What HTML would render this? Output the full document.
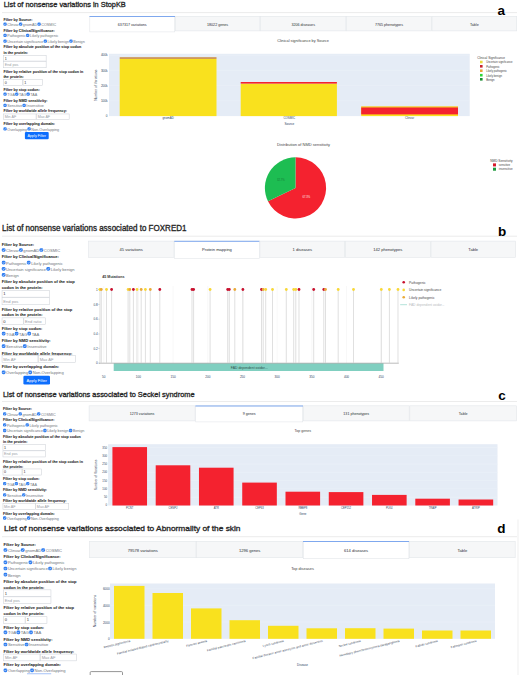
<!DOCTYPE html>
<html><head><meta charset="utf-8"><title>StopKB figure</title>
<style>
html,body{margin:0;padding:0;background:#fff;}
body{width:520px;height:675px;position:relative;overflow:hidden;font-family:"Liberation Sans", sans-serif;}
.t{position:absolute;white-space:pre;line-height:1;}
.r{position:absolute;}
</style></head><body>
<svg width="520" height="675" viewBox="0 0 520 675" style="position:absolute;left:0;top:0" font-family='"Liberation Sans", sans-serif'><text x="3.75" y="7.45" font-size="7.700" fill="#262626" textLength="122.00" lengthAdjust="spacingAndGlyphs" stroke="#262626" stroke-width="0.32">List of nonsense variations in StopKB</text><rect x="2.00" y="12.10" width="515.00" height="1.00" fill="#ececec"/><text x="497.60" y="14.90" font-size="13.500" fill="#000" font-weight="bold">a</text><text x="2.00" y="230.90" font-size="8.150" fill="#262626" textLength="184.50" lengthAdjust="spacingAndGlyphs" stroke="#262626" stroke-width="0.32">List of nonsense variations associated to FOXRED1</text><rect x="2.00" y="235.70" width="515.00" height="1.00" fill="#ececec"/><text x="497.90" y="235.70" font-size="13.500" fill="#000" font-weight="bold">b</text><text x="2.90" y="396.60" font-size="7.700" fill="#262626" textLength="191.60" lengthAdjust="spacingAndGlyphs" stroke="#262626" stroke-width="0.32">List of nonsense variations associated to Seckel syndrome</text><rect x="2.00" y="401.00" width="515.00" height="1.00" fill="#ececec"/><text x="498.30" y="399.70" font-size="13.500" fill="#000" font-weight="bold">c</text><text x="4.00" y="531.00" font-size="8.000" fill="#262626" textLength="236.50" lengthAdjust="spacingAndGlyphs" stroke="#262626" stroke-width="0.32">List of nonsense variations associated to Abnormality of the skin</text><rect x="2.00" y="536.20" width="515.00" height="1.00" fill="#ececec"/><text x="497.30" y="533.30" font-size="13.500" fill="#000" font-weight="bold">d</text><text x="3.40" y="21.02" font-size="3.700" fill="#1f1f1f" font-weight="bold" stroke="#1f1f1f" stroke-width="0.06">Filter by Source:</text><rect x="3.40" y="22.44" width="3.33" height="3.33" fill="#2f7df0" rx="1.27"/><path d="M4.23,24.17 L4.83,24.77 L5.90,23.50" stroke="#fff" stroke-width="0.47" fill="none"/><text x="7.29" y="25.92" font-size="3.700" fill="#6f757c">Clinvar</text><rect x="18.98" y="22.44" width="3.33" height="3.33" fill="#2f7df0" rx="1.27"/><path d="M19.82,24.17 L20.42,24.77 L21.48,23.50" stroke="#fff" stroke-width="0.47" fill="none"/><text x="22.87" y="25.92" font-size="3.700" fill="#6f757c">gnomAD</text><rect x="37.45" y="22.44" width="3.33" height="3.33" fill="#2f7df0" rx="1.27"/><path d="M38.28,24.17 L38.88,24.77 L39.95,23.50" stroke="#fff" stroke-width="0.47" fill="none"/><text x="41.33" y="25.92" font-size="3.700" fill="#6f757c">COSMIC</text><text x="3.40" y="31.52" font-size="3.700" fill="#1f1f1f" font-weight="bold" stroke="#1f1f1f" stroke-width="0.06">Filter by ClinicalSignificance:</text><rect x="3.40" y="33.63" width="3.33" height="3.33" fill="#2f7df0" rx="1.27"/><path d="M4.23,35.37 L4.83,35.97 L5.90,34.70" stroke="#fff" stroke-width="0.47" fill="none"/><text x="7.29" y="37.12" font-size="3.700" fill="#6f757c">Pathogenic</text><rect x="25.98" y="33.63" width="3.33" height="3.33" fill="#2f7df0" rx="1.27"/><path d="M26.82,35.37 L27.42,35.97 L28.48,34.70" stroke="#fff" stroke-width="0.47" fill="none"/><text x="29.87" y="37.12" font-size="3.700" fill="#6f757c">Likely pathogenic</text><rect x="3.40" y="39.44" width="3.33" height="3.33" fill="#2f7df0" rx="1.27"/><path d="M4.23,41.17 L4.83,41.77 L5.90,40.50" stroke="#fff" stroke-width="0.47" fill="none"/><text x="7.29" y="42.92" font-size="3.700" fill="#6f757c">Uncertain significance</text><rect x="43.67" y="39.44" width="3.33" height="3.33" fill="#2f7df0" rx="1.27"/><path d="M44.50,41.17 L45.10,41.77 L46.16,40.50" stroke="#fff" stroke-width="0.47" fill="none"/><text x="47.55" y="42.92" font-size="3.700" fill="#6f757c">Likely benign</text><rect x="69.34" y="39.44" width="3.33" height="3.33" fill="#2f7df0" rx="1.27"/><path d="M70.17,41.17 L70.77,41.77 L71.83,40.50" stroke="#fff" stroke-width="0.47" fill="none"/><text x="73.22" y="42.92" font-size="3.700" fill="#6f757c">Benign</text><text x="3.40" y="48.32" font-size="3.700" fill="#1f1f1f" font-weight="bold" stroke="#1f1f1f" stroke-width="0.06">Filter by absolute position of the stop codon</text><text x="3.40" y="53.92" font-size="3.700" fill="#1f1f1f" font-weight="bold" stroke="#1f1f1f" stroke-width="0.06">in the protein:</text><text x="3.40" y="72.52" font-size="3.700" fill="#1f1f1f" font-weight="bold" stroke="#1f1f1f" stroke-width="0.06">Filter by relative position of the stop codon in</text><text x="3.40" y="78.22" font-size="3.700" fill="#1f1f1f" font-weight="bold" stroke="#1f1f1f" stroke-width="0.06">the protein:</text><text x="3.40" y="90.52" font-size="3.700" fill="#1f1f1f" font-weight="bold" stroke="#1f1f1f" stroke-width="0.06">Filter by stop codon:</text><rect x="3.40" y="92.53" width="3.33" height="3.33" fill="#2f7df0" rx="1.27"/><path d="M4.23,94.27 L4.83,94.87 L5.90,93.60" stroke="#fff" stroke-width="0.47" fill="none"/><text x="7.29" y="96.02" font-size="3.700" fill="#6f757c">TGA</text><rect x="15.08" y="92.53" width="3.33" height="3.33" fill="#2f7df0" rx="1.27"/><path d="M15.91,94.27 L16.51,94.87 L17.57,93.60" stroke="#fff" stroke-width="0.47" fill="none"/><text x="18.96" y="96.02" font-size="3.700" fill="#6f757c">TAG</text><rect x="26.48" y="92.53" width="3.33" height="3.33" fill="#2f7df0" rx="1.27"/><path d="M27.31,94.27 L27.91,94.87 L28.98,93.60" stroke="#fff" stroke-width="0.47" fill="none"/><text x="30.36" y="96.02" font-size="3.700" fill="#6f757c">TAA</text><text x="3.40" y="101.52" font-size="3.700" fill="#1f1f1f" font-weight="bold" stroke="#1f1f1f" stroke-width="0.06">Filter by NMD sensitivity:</text><rect x="3.40" y="103.63" width="3.33" height="3.33" fill="#2f7df0" rx="1.27"/><path d="M4.23,105.37 L4.83,105.97 L5.90,104.70" stroke="#fff" stroke-width="0.47" fill="none"/><text x="7.29" y="107.12" font-size="3.700" fill="#6f757c">Sensitive</text><rect x="22.48" y="103.63" width="3.33" height="3.33" fill="#2f7df0" rx="1.27"/><path d="M23.32,105.37 L23.92,105.97 L24.98,104.70" stroke="#fff" stroke-width="0.47" fill="none"/><text x="26.37" y="107.12" font-size="3.700" fill="#6f757c">Insensitive</text><text x="3.40" y="112.32" font-size="3.700" fill="#1f1f1f" font-weight="bold" stroke="#1f1f1f" stroke-width="0.06">Filter by worldwide allele frequency:</text><text x="3.40" y="124.82" font-size="3.700" fill="#1f1f1f" font-weight="bold" stroke="#1f1f1f" stroke-width="0.06">Filter by overlapping domain:</text><rect x="3.40" y="127.14" width="3.33" height="3.33" fill="#2f7df0" rx="1.27"/><path d="M4.23,128.87 L4.83,129.47 L5.90,128.20" stroke="#fff" stroke-width="0.47" fill="none"/><text x="7.29" y="130.62" font-size="3.700" fill="#6f757c">Overlapping</text><rect x="27.42" y="127.14" width="3.33" height="3.33" fill="#2f7df0" rx="1.27"/><path d="M28.25,128.87 L28.85,129.47 L29.92,128.20" stroke="#fff" stroke-width="0.47" fill="none"/><text x="31.31" y="130.62" font-size="3.700" fill="#6f757c">Non-Overlapping</text><rect x="3.65" y="55.45" width="42.50" height="5.60" fill="#fff" stroke="#c9ced4" stroke-width="0.5" rx="0"/><text x="4.73" y="59.55" font-size="3.700" fill="#333">1</text><rect x="3.65" y="61.55" width="42.50" height="6.20" fill="#fff" stroke="#c9ced4" stroke-width="0.5" rx="0"/><text x="4.80" y="65.95" font-size="3.700" fill="#9aa0a6">End pos</text><rect x="3.65" y="79.55" width="18.90" height="6.00" fill="#fff" stroke="#c9ced4" stroke-width="0.5" rx="0"/><text x="4.78" y="83.84" font-size="3.700" fill="#333">0</text><rect x="23.05" y="79.55" width="19.40" height="6.00" fill="#fff" stroke="#c9ced4" stroke-width="0.5" rx="0"/><text x="24.18" y="83.84" font-size="3.700" fill="#333">1</text><rect x="3.65" y="113.95" width="32.40" height="5.60" fill="#fff" stroke="#c9ced4" stroke-width="0.5" rx="0"/><text x="4.73" y="118.05" font-size="3.700" fill="#9aa0a6">Min AF</text><rect x="36.55" y="113.95" width="32.60" height="5.60" fill="#fff" stroke="#c9ced4" stroke-width="0.5" rx="0"/><text x="37.63" y="118.05" font-size="3.700" fill="#9aa0a6">Max AF</text><rect x="24.90" y="131.90" width="23.80" height="7.40" fill="#0d6efd" rx="1.11"/><text x="36.80" y="136.93" font-size="3.700" fill="#fff" text-anchor="middle">Apply Filter</text><text x="1.80" y="246.25" font-size="4.100" fill="#1f1f1f" font-weight="bold" stroke="#1f1f1f" stroke-width="0.06">Filter by Source:</text><rect x="1.80" y="248.16" width="3.69" height="3.69" fill="#2f7df0" rx="1.40"/><path d="M2.72,250.07 L3.39,250.74 L4.57,249.34" stroke="#fff" stroke-width="0.52" fill="none"/><text x="6.10" y="251.95" font-size="4.100" fill="#6f757c">Clinvar</text><rect x="19.07" y="248.16" width="3.69" height="3.69" fill="#2f7df0" rx="1.40"/><path d="M19.99,250.07 L20.66,250.74 L21.84,249.34" stroke="#fff" stroke-width="0.52" fill="none"/><text x="23.37" y="251.95" font-size="4.100" fill="#6f757c">gnomAD</text><rect x="39.53" y="248.16" width="3.69" height="3.69" fill="#2f7df0" rx="1.40"/><path d="M40.45,250.07 L41.12,250.74 L42.30,249.34" stroke="#fff" stroke-width="0.52" fill="none"/><text x="43.84" y="251.95" font-size="4.100" fill="#6f757c">COSMIC</text><text x="1.80" y="258.25" font-size="4.100" fill="#1f1f1f" font-weight="bold" stroke="#1f1f1f" stroke-width="0.06">Filter by ClinicalSignificance:</text><rect x="1.80" y="260.75" width="3.69" height="3.69" fill="#2f7df0" rx="1.40"/><path d="M2.72,262.67 L3.39,263.34 L4.57,261.94" stroke="#fff" stroke-width="0.52" fill="none"/><text x="6.10" y="264.55" font-size="4.100" fill="#6f757c">Pathogenic</text><rect x="26.83" y="260.75" width="3.69" height="3.69" fill="#2f7df0" rx="1.40"/><path d="M27.75,262.67 L28.41,263.34 L29.59,261.94" stroke="#fff" stroke-width="0.52" fill="none"/><text x="31.13" y="264.55" font-size="4.100" fill="#6f757c">Likely pathogenic</text><rect x="1.80" y="266.95" width="3.69" height="3.69" fill="#2f7df0" rx="1.40"/><path d="M2.72,268.87 L3.39,269.54 L4.57,268.14" stroke="#fff" stroke-width="0.52" fill="none"/><text x="6.10" y="270.75" font-size="4.100" fill="#6f757c">Uncertain significance</text><rect x="46.42" y="266.95" width="3.69" height="3.69" fill="#2f7df0" rx="1.40"/><path d="M47.34,268.87 L48.01,269.54 L49.19,268.14" stroke="#fff" stroke-width="0.52" fill="none"/><text x="50.72" y="270.75" font-size="4.100" fill="#6f757c">Likely benign</text><rect x="1.80" y="273.05" width="3.69" height="3.69" fill="#2f7df0" rx="1.40"/><path d="M2.72,274.97 L3.39,275.64 L4.57,274.24" stroke="#fff" stroke-width="0.52" fill="none"/><text x="6.10" y="276.85" font-size="4.100" fill="#6f757c">Benign</text><text x="1.80" y="283.15" font-size="4.100" fill="#1f1f1f" font-weight="bold" stroke="#1f1f1f" stroke-width="0.06">Filter by absolute position of the stop</text><text x="1.80" y="289.15" font-size="4.100" fill="#1f1f1f" font-weight="bold" stroke="#1f1f1f" stroke-width="0.06">codon in the protein:</text><text x="1.80" y="310.55" font-size="4.100" fill="#1f1f1f" font-weight="bold" stroke="#1f1f1f" stroke-width="0.06">Filter by relative position of the stop</text><text x="1.80" y="315.95" font-size="4.100" fill="#1f1f1f" font-weight="bold" stroke="#1f1f1f" stroke-width="0.06">codon in the protein:</text><text x="1.80" y="329.85" font-size="4.100" fill="#1f1f1f" font-weight="bold" stroke="#1f1f1f" stroke-width="0.06">Filter by stop codon:</text><rect x="1.80" y="331.75" width="3.69" height="3.69" fill="#2f7df0" rx="1.40"/><path d="M2.72,333.67 L3.39,334.34 L4.57,332.94" stroke="#fff" stroke-width="0.52" fill="none"/><text x="6.10" y="335.55" font-size="4.100" fill="#6f757c">TGA</text><rect x="14.74" y="331.75" width="3.69" height="3.69" fill="#2f7df0" rx="1.40"/><path d="M15.66,333.67 L16.33,334.34 L17.51,332.94" stroke="#fff" stroke-width="0.52" fill="none"/><text x="19.04" y="335.55" font-size="4.100" fill="#6f757c">TAG</text><rect x="27.37" y="331.75" width="3.69" height="3.69" fill="#2f7df0" rx="1.40"/><path d="M28.30,333.67 L28.96,334.34 L30.14,332.94" stroke="#fff" stroke-width="0.52" fill="none"/><text x="31.68" y="335.55" font-size="4.100" fill="#6f757c">TAA</text><text x="1.80" y="342.25" font-size="4.100" fill="#1f1f1f" font-weight="bold" stroke="#1f1f1f" stroke-width="0.06">Filter by NMD sensitivity:</text><rect x="1.80" y="344.35" width="3.69" height="3.69" fill="#2f7df0" rx="1.40"/><path d="M2.72,346.27 L3.39,346.94 L4.57,345.54" stroke="#fff" stroke-width="0.52" fill="none"/><text x="6.10" y="348.15" font-size="4.100" fill="#6f757c">Sensitive</text><rect x="22.95" y="344.35" width="3.69" height="3.69" fill="#2f7df0" rx="1.40"/><path d="M23.87,346.27 L24.53,346.94 L25.71,345.54" stroke="#fff" stroke-width="0.52" fill="none"/><text x="27.25" y="348.15" font-size="4.100" fill="#6f757c">Insensitive</text><text x="1.80" y="354.55" font-size="4.100" fill="#1f1f1f" font-weight="bold" stroke="#1f1f1f" stroke-width="0.06">Filter by worldwide allele frequency:</text><text x="1.80" y="368.35" font-size="4.100" fill="#1f1f1f" font-weight="bold" stroke="#1f1f1f" stroke-width="0.06">Filter by overlapping domain:</text><rect x="1.80" y="370.45" width="3.69" height="3.69" fill="#2f7df0" rx="1.40"/><path d="M2.72,372.37 L3.39,373.04 L4.57,371.64" stroke="#fff" stroke-width="0.52" fill="none"/><text x="6.10" y="374.25" font-size="4.100" fill="#6f757c">Overlapping</text><rect x="28.42" y="370.45" width="3.69" height="3.69" fill="#2f7df0" rx="1.40"/><path d="M29.34,372.37 L30.00,373.04 L31.19,371.64" stroke="#fff" stroke-width="0.52" fill="none"/><text x="32.72" y="374.25" font-size="4.100" fill="#6f757c">Non-Overlapping</text><rect x="2.05" y="290.65" width="47.20" height="6.50" fill="#fff" stroke="#c9ced4" stroke-width="0.5" rx="0"/><text x="3.24" y="295.33" font-size="4.100" fill="#333">1</text><rect x="2.05" y="297.65" width="47.20" height="7.10" fill="#fff" stroke="#c9ced4" stroke-width="0.5" rx="0"/><text x="3.31" y="302.63" font-size="4.100" fill="#9aa0a6">End pos</text><rect x="2.05" y="317.85" width="21.30" height="6.60" fill="#fff" stroke="#c9ced4" stroke-width="0.5" rx="0"/><text x="3.25" y="322.58" font-size="4.100" fill="#333">0</text><rect x="23.85" y="317.85" width="21.40" height="6.60" fill="#fff" stroke="#c9ced4" stroke-width="0.5" rx="0"/><text x="25.05" y="322.58" font-size="4.100" fill="#9aa0a6">End ratio</text><rect x="2.05" y="355.65" width="35.90" height="6.90" fill="#fff" stroke="#c9ced4" stroke-width="0.5" rx="0"/><text x="3.29" y="360.54" font-size="4.100" fill="#9aa0a6">Min AF</text><rect x="38.45" y="355.65" width="36.80" height="6.90" fill="#fff" stroke="#c9ced4" stroke-width="0.5" rx="0"/><text x="39.69" y="360.54" font-size="4.100" fill="#9aa0a6">Max AF</text><rect x="23.40" y="375.80" width="26.60" height="8.80" fill="#0d6efd" rx="1.32"/><text x="36.70" y="381.68" font-size="4.100" fill="#fff" text-anchor="middle">Apply Filter</text><text x="3.00" y="409.92" font-size="3.700" fill="#1f1f1f" font-weight="bold" stroke="#1f1f1f" stroke-width="0.06">Filter by Source:</text><rect x="3.00" y="412.13" width="3.33" height="3.33" fill="#2f7df0" rx="1.27"/><path d="M3.83,413.87 L4.43,414.47 L5.50,413.20" stroke="#fff" stroke-width="0.47" fill="none"/><text x="6.88" y="415.62" font-size="3.700" fill="#6f757c">Clinvar</text><rect x="18.58" y="412.13" width="3.33" height="3.33" fill="#2f7df0" rx="1.27"/><path d="M19.42,413.87 L20.02,414.47 L21.08,413.20" stroke="#fff" stroke-width="0.47" fill="none"/><text x="22.47" y="415.62" font-size="3.700" fill="#6f757c">gnomAD</text><rect x="37.05" y="412.13" width="3.33" height="3.33" fill="#2f7df0" rx="1.27"/><path d="M37.88,413.87 L38.48,414.47 L39.55,413.20" stroke="#fff" stroke-width="0.47" fill="none"/><text x="40.93" y="415.62" font-size="3.700" fill="#6f757c">COSMIC</text><text x="3.00" y="421.12" font-size="3.700" fill="#1f1f1f" font-weight="bold" stroke="#1f1f1f" stroke-width="0.06">Filter by ClinicalSignificance:</text><rect x="3.00" y="423.23" width="3.33" height="3.33" fill="#2f7df0" rx="1.27"/><path d="M3.83,424.97 L4.43,425.57 L5.50,424.30" stroke="#fff" stroke-width="0.47" fill="none"/><text x="6.88" y="426.72" font-size="3.700" fill="#6f757c">Pathogenic</text><rect x="25.58" y="423.23" width="3.33" height="3.33" fill="#2f7df0" rx="1.27"/><path d="M26.42,424.97 L27.02,425.57 L28.08,424.30" stroke="#fff" stroke-width="0.47" fill="none"/><text x="29.47" y="426.72" font-size="3.700" fill="#6f757c">Likely pathogenic</text><rect x="3.00" y="428.83" width="3.33" height="3.33" fill="#2f7df0" rx="1.27"/><path d="M3.83,430.57 L4.43,431.17 L5.50,429.90" stroke="#fff" stroke-width="0.47" fill="none"/><text x="6.88" y="432.32" font-size="3.700" fill="#6f757c">Uncertain significance</text><rect x="43.27" y="428.83" width="3.33" height="3.33" fill="#2f7df0" rx="1.27"/><path d="M44.10,430.57 L44.70,431.17 L45.76,429.90" stroke="#fff" stroke-width="0.47" fill="none"/><text x="47.15" y="432.32" font-size="3.700" fill="#6f757c">Likely benign</text><rect x="68.94" y="428.83" width="3.33" height="3.33" fill="#2f7df0" rx="1.27"/><path d="M69.77,430.57 L70.37,431.17 L71.43,429.90" stroke="#fff" stroke-width="0.47" fill="none"/><text x="72.82" y="432.32" font-size="3.700" fill="#6f757c">Benign</text><text x="3.00" y="437.62" font-size="3.700" fill="#1f1f1f" font-weight="bold" stroke="#1f1f1f" stroke-width="0.06">Filter by absolute position of the stop codon</text><text x="3.00" y="443.27" font-size="3.700" fill="#1f1f1f" font-weight="bold" stroke="#1f1f1f" stroke-width="0.06">in the protein:</text><text x="3.00" y="462.52" font-size="3.700" fill="#1f1f1f" font-weight="bold" stroke="#1f1f1f" stroke-width="0.06">Filter by relative position of the stop codon in</text><text x="3.00" y="467.82" font-size="3.700" fill="#1f1f1f" font-weight="bold" stroke="#1f1f1f" stroke-width="0.06">the protein:</text><text x="3.00" y="480.42" font-size="3.700" fill="#1f1f1f" font-weight="bold" stroke="#1f1f1f" stroke-width="0.06">Filter by stop codon:</text><rect x="3.00" y="482.03" width="3.33" height="3.33" fill="#2f7df0" rx="1.27"/><path d="M3.83,483.77 L4.43,484.37 L5.50,483.10" stroke="#fff" stroke-width="0.47" fill="none"/><text x="6.88" y="485.52" font-size="3.700" fill="#6f757c">TGA</text><rect x="14.68" y="482.03" width="3.33" height="3.33" fill="#2f7df0" rx="1.27"/><path d="M15.51,483.77 L16.11,484.37 L17.17,483.10" stroke="#fff" stroke-width="0.47" fill="none"/><text x="18.56" y="485.52" font-size="3.700" fill="#6f757c">TAG</text><rect x="26.08" y="482.03" width="3.33" height="3.33" fill="#2f7df0" rx="1.27"/><path d="M26.91,483.77 L27.51,484.37 L28.58,483.10" stroke="#fff" stroke-width="0.47" fill="none"/><text x="29.96" y="485.52" font-size="3.700" fill="#6f757c">TAA</text><text x="3.00" y="491.02" font-size="3.700" fill="#1f1f1f" font-weight="bold" stroke="#1f1f1f" stroke-width="0.06">Filter by NMD sensitivity:</text><rect x="3.00" y="493.13" width="3.33" height="3.33" fill="#2f7df0" rx="1.27"/><path d="M3.83,494.87 L4.43,495.47 L5.50,494.20" stroke="#fff" stroke-width="0.47" fill="none"/><text x="6.88" y="496.62" font-size="3.700" fill="#6f757c">Sensitive</text><rect x="22.08" y="493.13" width="3.33" height="3.33" fill="#2f7df0" rx="1.27"/><path d="M22.92,494.87 L23.52,495.47 L24.58,494.20" stroke="#fff" stroke-width="0.47" fill="none"/><text x="25.97" y="496.62" font-size="3.700" fill="#6f757c">Insensitive</text><text x="3.00" y="502.12" font-size="3.700" fill="#1f1f1f" font-weight="bold" stroke="#1f1f1f" stroke-width="0.06">Filter by worldwide allele frequency:</text><text x="3.00" y="514.62" font-size="3.700" fill="#1f1f1f" font-weight="bold" stroke="#1f1f1f" stroke-width="0.06">Filter by overlapping domain:</text><rect x="3.00" y="516.34" width="3.33" height="3.33" fill="#2f7df0" rx="1.27"/><path d="M3.83,518.07 L4.43,518.67 L5.50,517.40" stroke="#fff" stroke-width="0.47" fill="none"/><text x="6.88" y="519.82" font-size="3.700" fill="#6f757c">Overlapping</text><rect x="27.02" y="516.34" width="3.33" height="3.33" fill="#2f7df0" rx="1.27"/><path d="M27.85,518.07 L28.45,518.67 L29.52,517.40" stroke="#fff" stroke-width="0.47" fill="none"/><text x="30.91" y="519.82" font-size="3.700" fill="#6f757c">Non-Overlapping</text><rect x="2.95" y="444.55" width="42.60" height="5.80" fill="#fff" stroke="#c9ced4" stroke-width="0.5" rx="0"/><text x="4.06" y="448.75" font-size="3.700" fill="#333">1</text><rect x="2.95" y="450.85" width="42.60" height="6.10" fill="#fff" stroke="#c9ced4" stroke-width="0.5" rx="0"/><text x="4.09" y="455.19" font-size="3.700" fill="#9aa0a6">End pos</text><rect x="2.95" y="468.95" width="19.00" height="6.10" fill="#fff" stroke="#c9ced4" stroke-width="0.5" rx="0"/><text x="4.09" y="473.30" font-size="3.700" fill="#333">0</text><rect x="22.45" y="468.95" width="18.90" height="6.10" fill="#fff" stroke="#c9ced4" stroke-width="0.5" rx="0"/><text x="23.59" y="473.30" font-size="3.700" fill="#333">1</text><rect x="2.95" y="503.65" width="32.30" height="5.70" fill="#fff" stroke="#c9ced4" stroke-width="0.5" rx="0"/><text x="4.04" y="507.80" font-size="3.700" fill="#9aa0a6">Min AF</text><rect x="35.75" y="503.65" width="33.00" height="5.70" fill="#fff" stroke="#c9ced4" stroke-width="0.5" rx="0"/><text x="36.84" y="507.80" font-size="3.700" fill="#9aa0a6">Max AF</text><text x="3.60" y="546.25" font-size="4.100" fill="#1f1f1f" font-weight="bold" stroke="#1f1f1f" stroke-width="0.06">Filter by Source:</text><rect x="3.60" y="548.15" width="3.69" height="3.69" fill="#2f7df0" rx="1.40"/><path d="M4.52,550.07 L5.19,550.74 L6.37,549.34" stroke="#fff" stroke-width="0.52" fill="none"/><text x="7.90" y="551.95" font-size="4.100" fill="#6f757c">Clinvar</text><rect x="20.87" y="548.15" width="3.69" height="3.69" fill="#2f7df0" rx="1.40"/><path d="M21.79,550.07 L22.46,550.74 L23.64,549.34" stroke="#fff" stroke-width="0.52" fill="none"/><text x="25.17" y="551.95" font-size="4.100" fill="#6f757c">gnomAD</text><rect x="41.33" y="548.15" width="3.69" height="3.69" fill="#2f7df0" rx="1.40"/><path d="M42.25,550.07 L42.92,550.74 L44.10,549.34" stroke="#fff" stroke-width="0.52" fill="none"/><text x="45.64" y="551.95" font-size="4.100" fill="#6f757c">COSMIC</text><text x="3.60" y="558.25" font-size="4.100" fill="#1f1f1f" font-weight="bold" stroke="#1f1f1f" stroke-width="0.06">Filter by ClinicalSignificance:</text><rect x="3.60" y="560.45" width="3.69" height="3.69" fill="#2f7df0" rx="1.40"/><path d="M4.52,562.37 L5.19,563.04 L6.37,561.64" stroke="#fff" stroke-width="0.52" fill="none"/><text x="7.90" y="564.25" font-size="4.100" fill="#6f757c">Pathogenic</text><rect x="28.63" y="560.45" width="3.69" height="3.69" fill="#2f7df0" rx="1.40"/><path d="M29.55,562.37 L30.21,563.04 L31.39,561.64" stroke="#fff" stroke-width="0.52" fill="none"/><text x="32.93" y="564.25" font-size="4.100" fill="#6f757c">Likely pathogenic</text><rect x="3.60" y="566.65" width="3.69" height="3.69" fill="#2f7df0" rx="1.40"/><path d="M4.52,568.57 L5.19,569.24 L6.37,567.84" stroke="#fff" stroke-width="0.52" fill="none"/><text x="7.90" y="570.45" font-size="4.100" fill="#6f757c">Uncertain significance</text><rect x="48.22" y="566.65" width="3.69" height="3.69" fill="#2f7df0" rx="1.40"/><path d="M49.14,568.57 L49.81,569.24 L50.99,567.84" stroke="#fff" stroke-width="0.52" fill="none"/><text x="52.52" y="570.45" font-size="4.100" fill="#6f757c">Likely benign</text><rect x="3.60" y="572.75" width="3.69" height="3.69" fill="#2f7df0" rx="1.40"/><path d="M4.52,574.67 L5.19,575.34 L6.37,573.94" stroke="#fff" stroke-width="0.52" fill="none"/><text x="7.90" y="576.55" font-size="4.100" fill="#6f757c">Benign</text><text x="3.60" y="582.55" font-size="4.100" fill="#1f1f1f" font-weight="bold" stroke="#1f1f1f" stroke-width="0.06">Filter by absolute position of the stop</text><text x="3.60" y="588.60" font-size="4.100" fill="#1f1f1f" font-weight="bold" stroke="#1f1f1f" stroke-width="0.06">codon in the protein:</text><text x="3.60" y="609.35" font-size="4.100" fill="#1f1f1f" font-weight="bold" stroke="#1f1f1f" stroke-width="0.06">Filter by relative position of the stop</text><text x="3.60" y="615.25" font-size="4.100" fill="#1f1f1f" font-weight="bold" stroke="#1f1f1f" stroke-width="0.06">codon in the protein:</text><text x="3.60" y="628.55" font-size="4.100" fill="#1f1f1f" font-weight="bold" stroke="#1f1f1f" stroke-width="0.06">Filter by stop codon:</text><rect x="3.60" y="630.55" width="3.69" height="3.69" fill="#2f7df0" rx="1.40"/><path d="M4.52,632.47 L5.19,633.14 L6.37,631.74" stroke="#fff" stroke-width="0.52" fill="none"/><text x="7.90" y="634.35" font-size="4.100" fill="#6f757c">TGA</text><rect x="16.54" y="630.55" width="3.69" height="3.69" fill="#2f7df0" rx="1.40"/><path d="M17.46,632.47 L18.13,633.14 L19.31,631.74" stroke="#fff" stroke-width="0.52" fill="none"/><text x="20.84" y="634.35" font-size="4.100" fill="#6f757c">TAG</text><rect x="29.17" y="630.55" width="3.69" height="3.69" fill="#2f7df0" rx="1.40"/><path d="M30.10,632.47 L30.76,633.14 L31.94,631.74" stroke="#fff" stroke-width="0.52" fill="none"/><text x="33.48" y="634.35" font-size="4.100" fill="#6f757c">TAA</text><text x="3.60" y="640.55" font-size="4.100" fill="#1f1f1f" font-weight="bold" stroke="#1f1f1f" stroke-width="0.06">Filter by NMD sensitivity:</text><rect x="3.60" y="642.65" width="3.69" height="3.69" fill="#2f7df0" rx="1.40"/><path d="M4.52,644.57 L5.19,645.24 L6.37,643.84" stroke="#fff" stroke-width="0.52" fill="none"/><text x="7.90" y="646.45" font-size="4.100" fill="#6f757c">Sensitive</text><rect x="24.75" y="642.65" width="3.69" height="3.69" fill="#2f7df0" rx="1.40"/><path d="M25.67,644.57 L26.33,645.24 L27.51,643.84" stroke="#fff" stroke-width="0.52" fill="none"/><text x="29.05" y="646.45" font-size="4.100" fill="#6f757c">Insensitive</text><text x="3.60" y="652.85" font-size="4.100" fill="#1f1f1f" font-weight="bold" stroke="#1f1f1f" stroke-width="0.06">Filter by worldwide allele frequency:</text><text x="3.60" y="666.35" font-size="4.100" fill="#1f1f1f" font-weight="bold" stroke="#1f1f1f" stroke-width="0.06">Filter by overlapping domain:</text><rect x="3.60" y="668.45" width="3.69" height="3.69" fill="#2f7df0" rx="1.40"/><path d="M4.52,670.37 L5.19,671.04 L6.37,669.64" stroke="#fff" stroke-width="0.52" fill="none"/><text x="7.90" y="672.25" font-size="4.100" fill="#6f757c">Overlapping</text><rect x="30.22" y="668.45" width="3.69" height="3.69" fill="#2f7df0" rx="1.40"/><path d="M31.14,670.37 L31.80,671.04 L32.99,669.64" stroke="#fff" stroke-width="0.52" fill="none"/><text x="34.52" y="672.25" font-size="4.100" fill="#6f757c">Non-Overlapping</text><rect x="3.65" y="589.85" width="47.30" height="6.50" fill="#fff" stroke="#c9ced4" stroke-width="0.5" rx="0"/><text x="4.84" y="594.53" font-size="4.100" fill="#333">1</text><rect x="3.65" y="596.85" width="47.30" height="6.70" fill="#fff" stroke="#c9ced4" stroke-width="0.5" rx="0"/><text x="4.86" y="601.63" font-size="4.100" fill="#9aa0a6">End pos</text><rect x="3.65" y="616.75" width="21.40" height="6.50" fill="#fff" stroke="#c9ced4" stroke-width="0.5" rx="0"/><text x="4.84" y="621.43" font-size="4.100" fill="#333">0</text><rect x="25.55" y="616.75" width="21.40" height="6.50" fill="#fff" stroke="#c9ced4" stroke-width="0.5" rx="0"/><text x="26.74" y="621.43" font-size="4.100" fill="#333">1</text><rect x="3.65" y="654.05" width="36.30" height="6.80" fill="#fff" stroke="#c9ced4" stroke-width="0.5" rx="0"/><text x="4.88" y="658.88" font-size="4.100" fill="#9aa0a6">Min AF</text><rect x="40.45" y="654.05" width="36.20" height="6.80" fill="#fff" stroke="#c9ced4" stroke-width="0.5" rx="0"/><text x="41.68" y="658.88" font-size="4.100" fill="#9aa0a6">Max AF</text><rect x="27.00" y="673.40" width="24.20" height="0.80" fill="#8fb4f5"/><rect x="90.20" y="671.60" width="32.30" height="8.00" fill="#fff" stroke="#7a7a7a" stroke-width="0.8" rx="1"/><rect x="89.80" y="16.30" width="84.90" height="15.60" fill="#fff" stroke="#e3e6ea" stroke-width="0.6" rx="0"/><rect x="89.50" y="16.00" width="85.50" height="1.00" fill="#7fa8ee"/><text x="132.25" y="25.58" font-size="3.660" fill="#2a2e33" text-anchor="middle">637317 variations</text><rect x="175.30" y="16.30" width="84.60" height="14.60" fill="#f6f7f8" stroke="#e3e6ea" stroke-width="0.6" rx="0"/><text x="217.60" y="25.58" font-size="3.660" fill="#2a2e33" text-anchor="middle">18022 genes</text><rect x="260.50" y="16.30" width="85.40" height="14.60" fill="#f6f7f8" stroke="#e3e6ea" stroke-width="0.6" rx="0"/><text x="303.20" y="25.58" font-size="3.660" fill="#2a2e33" text-anchor="middle">3206 diseases</text><rect x="346.50" y="16.30" width="84.90" height="14.60" fill="#f6f7f8" stroke="#e3e6ea" stroke-width="0.6" rx="0"/><text x="388.95" y="25.58" font-size="3.660" fill="#2a2e33" text-anchor="middle">7765 phenotypes</text><rect x="432.00" y="16.30" width="84.70" height="14.60" fill="#f6f7f8" stroke="#e3e6ea" stroke-width="0.6" rx="0"/><text x="474.35" y="25.58" font-size="3.660" fill="#2a2e33" text-anchor="middle">Table</text><rect x="88.40" y="241.10" width="85.60" height="16.30" fill="#f6f7f8" stroke="#e3e6ea" stroke-width="0.6" rx="0"/><text x="131.20" y="251.38" font-size="4.100" fill="#2a2e33" text-anchor="middle">45 variations</text><rect x="174.60" y="241.10" width="84.70" height="17.30" fill="#fff" stroke="#e3e6ea" stroke-width="0.6" rx="0"/><rect x="174.30" y="240.80" width="85.30" height="1.00" fill="#7fa8ee"/><text x="216.95" y="251.38" font-size="4.100" fill="#2a2e33" text-anchor="middle">Protein mapping</text><rect x="259.90" y="241.10" width="84.80" height="16.30" fill="#f6f7f8" stroke="#e3e6ea" stroke-width="0.6" rx="0"/><text x="302.30" y="251.38" font-size="4.100" fill="#2a2e33" text-anchor="middle">1 diseases</text><rect x="345.30" y="241.10" width="85.10" height="16.30" fill="#f6f7f8" stroke="#e3e6ea" stroke-width="0.6" rx="0"/><text x="387.85" y="251.38" font-size="4.100" fill="#2a2e33" text-anchor="middle">142 phenotypes</text><rect x="431.00" y="241.10" width="84.50" height="16.30" fill="#f6f7f8" stroke="#e3e6ea" stroke-width="0.6" rx="0"/><text x="473.25" y="251.38" font-size="4.100" fill="#2a2e33" text-anchor="middle">Table</text><rect x="89.10" y="405.80" width="106.00" height="15.10" fill="#f6f7f8" stroke="#e3e6ea" stroke-width="0.6" rx="0"/><text x="142.10" y="415.32" font-size="3.640" fill="#2a2e33" text-anchor="middle">1273 variations</text><rect x="195.70" y="405.80" width="107.00" height="16.10" fill="#fff" stroke="#e3e6ea" stroke-width="0.6" rx="0"/><rect x="195.40" y="405.50" width="107.60" height="1.00" fill="#7fa8ee"/><text x="249.20" y="415.32" font-size="3.640" fill="#2a2e33" text-anchor="middle">9 genes</text><rect x="303.30" y="405.80" width="105.90" height="15.10" fill="#f6f7f8" stroke="#e3e6ea" stroke-width="0.6" rx="0"/><text x="356.25" y="415.32" font-size="3.640" fill="#2a2e33" text-anchor="middle">131 phenotypes</text><rect x="409.80" y="405.80" width="106.70" height="15.10" fill="#f6f7f8" stroke="#e3e6ea" stroke-width="0.6" rx="0"/><text x="463.15" y="415.32" font-size="3.640" fill="#2a2e33" text-anchor="middle">Table</text><rect x="89.50" y="541.30" width="106.50" height="16.40" fill="#f6f7f8" stroke="#e3e6ea" stroke-width="0.6" rx="0"/><text x="142.75" y="551.63" font-size="4.100" fill="#2a2e33" text-anchor="middle">79578 variations</text><rect x="196.60" y="541.30" width="106.10" height="16.40" fill="#f6f7f8" stroke="#e3e6ea" stroke-width="0.6" rx="0"/><text x="249.65" y="551.63" font-size="4.100" fill="#2a2e33" text-anchor="middle">1296 genes</text><rect x="303.30" y="541.30" width="105.60" height="17.40" fill="#fff" stroke="#e3e6ea" stroke-width="0.6" rx="0"/><rect x="303.00" y="541.00" width="106.20" height="1.00" fill="#7fa8ee"/><text x="356.10" y="551.63" font-size="4.100" fill="#2a2e33" text-anchor="middle">614 diseases</text><rect x="409.50" y="541.30" width="105.70" height="16.40" fill="#f6f7f8" stroke="#e3e6ea" stroke-width="0.6" rx="0"/><text x="462.35" y="551.63" font-size="4.100" fill="#2a2e33" text-anchor="middle">Table</text><rect x="517.60" y="519.50" width="0.80" height="155.50" fill="#ececec"/><text x="303.00" y="42.40" font-size="3.84" text-anchor="middle" fill="#444" font-weight="normal">Clinical significance by Source</text><rect x="109" y="53.8" width="360.7" height="62.3" fill="#e5ecf6"/><line x1="109" x2="469.7" y1="100.8" y2="100.8" stroke="#edf2f9" stroke-width="0.5"/><line x1="109" x2="469.7" y1="85.6" y2="85.6" stroke="#edf2f9" stroke-width="0.5"/><line x1="109" x2="469.7" y1="70.4" y2="70.4" stroke="#edf2f9" stroke-width="0.5"/><line x1="109" x2="469.7" y1="55.2" y2="55.2" stroke="#edf2f9" stroke-width="0.5"/><text x="107.60" y="56.30" font-size="3.10" text-anchor="end" fill="#2a3f5f" font-weight="normal">400k</text><text x="107.60" y="71.50" font-size="3.10" text-anchor="end" fill="#2a3f5f" font-weight="normal">300k</text><text x="107.60" y="86.70" font-size="3.10" text-anchor="end" fill="#2a3f5f" font-weight="normal">200k</text><text x="107.60" y="101.90" font-size="3.10" text-anchor="end" fill="#2a3f5f" font-weight="normal">100k</text><text x="107.60" y="117.10" font-size="3.10" text-anchor="end" fill="#2a3f5f" font-weight="normal">0</text><text x="96.60" y="85.20" font-size="3.35" text-anchor="middle" fill="#3c4a5e" font-weight="normal" transform="rotate(-90 96.60 85.20)">Number of Variations</text><rect x="119.7" y="58.9" width="96.8" height="57.2" fill="#f9e11e"/><rect x="119.7" y="57.3" width="96.8" height="1.5" fill="#c98538"/><rect x="240.7" y="83.6" width="96.2" height="32.5" fill="#f9e11e"/><rect x="240.7" y="82.0" width="96.2" height="1.6" fill="#f4222f"/><rect x="361.2" y="106.5" width="96.8" height="9.6" fill="#f9e11e"/><rect x="361.2" y="106.5" width="96.8" height="1.0" fill="#f4c43a"/><rect x="361.2" y="107.5" width="96.8" height="6.9" fill="#f4222f"/><text x="168.10" y="119.40" font-size="2.90" text-anchor="middle" fill="#2a3f5f" font-weight="normal">gnomAD</text><text x="289.30" y="119.40" font-size="2.90" text-anchor="middle" fill="#2a3f5f" font-weight="normal">COSMIC</text><text x="409.60" y="119.40" font-size="2.90" text-anchor="middle" fill="#2a3f5f" font-weight="normal">Clinvar</text><text x="289.30" y="125.20" font-size="3.10" text-anchor="middle" fill="#2a3f5f" font-weight="normal">Source</text><text x="477.20" y="58.60" font-size="3.14" text-anchor="start" fill="#444" font-weight="normal">Clinical Significance</text><rect x="480" y="60.70" width="2.6" height="2.6" fill="#e7dc3c"/><text x="486.20" y="63.30" font-size="2.70" text-anchor="start" fill="#444" font-weight="normal">Uncertain significance</text><rect x="480" y="65.00" width="2.6" height="2.6" fill="#c8242c"/><text x="486.20" y="67.60" font-size="2.70" text-anchor="start" fill="#444" font-weight="normal">Pathogenic</text><rect x="480" y="69.40" width="2.6" height="2.6" fill="#eaa23a"/><text x="486.20" y="72.00" font-size="2.70" text-anchor="start" fill="#444" font-weight="normal">Likely pathogenic</text><rect x="480" y="73.90" width="2.6" height="2.6" fill="#2fd63a"/><text x="486.20" y="76.50" font-size="2.70" text-anchor="start" fill="#444" font-weight="normal">Likely benign</text><rect x="480" y="78.00" width="2.6" height="2.6" fill="#1c8f34"/><text x="486.20" y="80.60" font-size="2.70" text-anchor="start" fill="#444" font-weight="normal">Benign</text><text x="303.50" y="145.70" font-size="4.00" text-anchor="middle" fill="#444" font-weight="normal">Distribution of NMD sensitivity</text><path d="M295.5,187.9 L295.50,157.30 A30.6,30.6 0 1 1 267.98,201.28 Z" fill="#f4222f"/><path d="M295.5,187.9 L267.98,201.28 A30.6,30.6 0 0 1 295.50,157.30 Z" fill="#1dbd52"/><text x="306.40" y="197.70" font-size="2.70" text-anchor="middle" fill="#fde8e8" font-weight="normal">67.3%</text><text x="280.90" y="180.60" font-size="2.70" text-anchor="middle" fill="#157a38" font-weight="normal">32.7%</text><text x="490.20" y="161.50" font-size="3.20" text-anchor="start" fill="#444" font-weight="normal">NMD Sensitivity</text><rect x="493" y="163.40" width="3" height="3" fill="#d8192a"/><text x="498.80" y="165.95" font-size="2.95" text-anchor="start" fill="#444" font-weight="normal">sensitive</text><rect x="493" y="167.70" width="3" height="3" fill="#1d9a3d"/><text x="498.80" y="170.25" font-size="2.95" text-anchor="start" fill="#444" font-weight="normal">insensitive</text><text x="102.30" y="277.80" font-size="3.65" text-anchor="start" fill="#333" font-weight="bold">45 Mutations</text><line x1="103.77" x2="103.77" y1="286" y2="363" stroke="#f0f0f0" stroke-width="0.5"/><text x="103.77" y="378.40" font-size="3.10" text-anchor="middle" fill="#2a3f5f" font-weight="normal">50</text><line x1="138.45" x2="138.45" y1="286" y2="363" stroke="#f0f0f0" stroke-width="0.5"/><text x="138.45" y="378.40" font-size="3.10" text-anchor="middle" fill="#2a3f5f" font-weight="normal">100</text><line x1="173.12" x2="173.12" y1="286" y2="363" stroke="#f0f0f0" stroke-width="0.5"/><text x="173.12" y="378.40" font-size="3.10" text-anchor="middle" fill="#2a3f5f" font-weight="normal">150</text><line x1="207.80" x2="207.80" y1="286" y2="363" stroke="#f0f0f0" stroke-width="0.5"/><text x="207.80" y="378.40" font-size="3.10" text-anchor="middle" fill="#2a3f5f" font-weight="normal">200</text><line x1="242.47" x2="242.47" y1="286" y2="363" stroke="#f0f0f0" stroke-width="0.5"/><text x="242.47" y="378.40" font-size="3.10" text-anchor="middle" fill="#2a3f5f" font-weight="normal">250</text><line x1="277.15" x2="277.15" y1="286" y2="363" stroke="#f0f0f0" stroke-width="0.5"/><text x="277.15" y="378.40" font-size="3.10" text-anchor="middle" fill="#2a3f5f" font-weight="normal">300</text><line x1="311.82" x2="311.82" y1="286" y2="363" stroke="#f0f0f0" stroke-width="0.5"/><text x="311.82" y="378.40" font-size="3.10" text-anchor="middle" fill="#2a3f5f" font-weight="normal">350</text><line x1="346.50" x2="346.50" y1="286" y2="363" stroke="#f0f0f0" stroke-width="0.5"/><text x="346.50" y="378.40" font-size="3.10" text-anchor="middle" fill="#2a3f5f" font-weight="normal">400</text><line x1="381.17" x2="381.17" y1="286" y2="363" stroke="#f0f0f0" stroke-width="0.5"/><text x="381.17" y="378.40" font-size="3.10" text-anchor="middle" fill="#2a3f5f" font-weight="normal">450</text><text x="97.80" y="290.60" font-size="3.10" text-anchor="end" fill="#2a3f5f" font-weight="normal">1</text><line x1="98.3" x2="99.8" y1="289.5" y2="289.5" stroke="#888" stroke-width="0.4"/><text x="97.80" y="305.50" font-size="3.10" text-anchor="end" fill="#2a3f5f" font-weight="normal">0.8</text><line x1="98.3" x2="99.8" y1="304.4" y2="304.4" stroke="#888" stroke-width="0.4"/><text x="97.80" y="320.30" font-size="3.10" text-anchor="end" fill="#2a3f5f" font-weight="normal">0.6</text><line x1="98.3" x2="99.8" y1="319.2" y2="319.2" stroke="#888" stroke-width="0.4"/><text x="97.80" y="335.10" font-size="3.10" text-anchor="end" fill="#2a3f5f" font-weight="normal">0.4</text><line x1="98.3" x2="99.8" y1="334" y2="334" stroke="#888" stroke-width="0.4"/><text x="97.80" y="349.50" font-size="3.10" text-anchor="end" fill="#2a3f5f" font-weight="normal">0.2</text><line x1="98.3" x2="99.8" y1="348.4" y2="348.4" stroke="#888" stroke-width="0.4"/><text x="97.80" y="364.30" font-size="3.10" text-anchor="end" fill="#2a3f5f" font-weight="normal">0</text><line x1="98.3" x2="99.8" y1="363.2" y2="363.2" stroke="#888" stroke-width="0.4"/><rect x="113.7" y="363.4" width="269.8" height="7.6" fill="#80cfc0"/><text x="230.80" y="368.50" font-size="3.00" text-anchor="start" fill="#2f4f4a" font-weight="normal" textLength="36.8" lengthAdjust="spacingAndGlyphs">FAD dependent oxidor...</text><line x1="99" x2="398.8" y1="363.2" y2="363.2" stroke="#777" stroke-width="0.5"/><line x1="99.90" x2="99.90" y1="289.5" y2="363" stroke="#d2d2d2" stroke-width="0.7"/><line x1="101.30" x2="101.30" y1="289.5" y2="363" stroke="#d2d2d2" stroke-width="0.7"/><line x1="106.50" x2="106.50" y1="289.5" y2="363" stroke="#d2d2d2" stroke-width="0.7"/><line x1="111.60" x2="111.60" y1="289.5" y2="363" stroke="#d2d2d2" stroke-width="0.7"/><line x1="128.10" x2="128.10" y1="289.5" y2="363" stroke="#d2d2d2" stroke-width="0.7"/><line x1="129.80" x2="129.80" y1="289.5" y2="363" stroke="#d2d2d2" stroke-width="0.7"/><line x1="133.40" x2="133.40" y1="289.5" y2="363" stroke="#d2d2d2" stroke-width="0.7"/><line x1="137.00" x2="137.00" y1="289.5" y2="363" stroke="#d2d2d2" stroke-width="0.7"/><line x1="141.20" x2="141.20" y1="289.5" y2="363" stroke="#d2d2d2" stroke-width="0.7"/><line x1="145.40" x2="145.40" y1="289.5" y2="363" stroke="#d2d2d2" stroke-width="0.7"/><line x1="150.30" x2="150.30" y1="289.5" y2="363" stroke="#d2d2d2" stroke-width="0.7"/><line x1="159.80" x2="159.80" y1="289.5" y2="363" stroke="#d2d2d2" stroke-width="0.7"/><line x1="192.00" x2="192.00" y1="289.5" y2="363" stroke="#d2d2d2" stroke-width="0.7"/><line x1="193.60" x2="193.60" y1="289.5" y2="363" stroke="#d2d2d2" stroke-width="0.7"/><line x1="210.10" x2="210.10" y1="289.5" y2="363" stroke="#d2d2d2" stroke-width="0.7"/><line x1="227.70" x2="227.70" y1="289.5" y2="363" stroke="#d2d2d2" stroke-width="0.7"/><line x1="229.30" x2="229.30" y1="289.5" y2="363" stroke="#d2d2d2" stroke-width="0.7"/><line x1="234.80" x2="234.80" y1="289.5" y2="363" stroke="#d2d2d2" stroke-width="0.7"/><line x1="242.90" x2="242.90" y1="289.5" y2="363" stroke="#d2d2d2" stroke-width="0.7"/><line x1="261.50" x2="261.50" y1="289.5" y2="363" stroke="#d2d2d2" stroke-width="0.7"/><line x1="263.20" x2="263.20" y1="289.5" y2="363" stroke="#d2d2d2" stroke-width="0.7"/><line x1="265.70" x2="265.70" y1="289.5" y2="363" stroke="#d2d2d2" stroke-width="0.7"/><line x1="272.50" x2="272.50" y1="289.5" y2="363" stroke="#d2d2d2" stroke-width="0.7"/><line x1="286.30" x2="286.30" y1="289.5" y2="363" stroke="#d2d2d2" stroke-width="0.7"/><line x1="293.70" x2="293.70" y1="289.5" y2="363" stroke="#d2d2d2" stroke-width="0.7"/><line x1="295.80" x2="295.80" y1="289.5" y2="363" stroke="#d2d2d2" stroke-width="0.7"/><line x1="299.00" x2="299.00" y1="289.5" y2="363" stroke="#d2d2d2" stroke-width="0.7"/><line x1="313.70" x2="313.70" y1="289.5" y2="363" stroke="#d2d2d2" stroke-width="0.7"/><line x1="323.80" x2="323.80" y1="289.5" y2="363" stroke="#d2d2d2" stroke-width="0.7"/><line x1="325.50" x2="325.50" y1="289.5" y2="363" stroke="#d2d2d2" stroke-width="0.7"/><line x1="338.20" x2="338.20" y1="289.5" y2="363" stroke="#d2d2d2" stroke-width="0.7"/><line x1="353.50" x2="353.50" y1="289.5" y2="363" stroke="#d2d2d2" stroke-width="0.7"/><line x1="381.30" x2="381.30" y1="289.5" y2="363" stroke="#d2d2d2" stroke-width="0.7"/><line x1="389.40" x2="389.40" y1="289.5" y2="363" stroke="#d2d2d2" stroke-width="0.7"/><line x1="398.00" x2="398.00" y1="289.5" y2="363" stroke="#d2d2d2" stroke-width="0.7"/><circle cx="99.90" cy="289.5" r="1.4" fill="#f8d838"/><circle cx="101.30" cy="289.5" r="1.4" fill="#eaaa3a"/><circle cx="106.50" cy="289.5" r="1.4" fill="#f8d838"/><circle cx="111.60" cy="289.5" r="1.4" fill="#c8102e"/><circle cx="128.10" cy="289.5" r="1.4" fill="#f8d838"/><circle cx="129.80" cy="289.5" r="1.4" fill="#eaaa3a"/><circle cx="133.40" cy="289.5" r="1.4" fill="#c8102e"/><circle cx="137.00" cy="289.5" r="1.4" fill="#f8d838"/><circle cx="141.20" cy="289.5" r="1.4" fill="#eaaa3a"/><circle cx="145.40" cy="289.5" r="1.4" fill="#f8d838"/><circle cx="150.30" cy="289.5" r="1.4" fill="#eaaa3a"/><circle cx="159.80" cy="289.5" r="1.4" fill="#c8102e"/><circle cx="192.00" cy="289.5" r="1.4" fill="#c8102e"/><circle cx="193.60" cy="289.5" r="1.4" fill="#c8102e"/><circle cx="210.10" cy="289.5" r="1.4" fill="#f8d838"/><circle cx="227.70" cy="289.5" r="1.4" fill="#c8102e"/><circle cx="229.30" cy="289.5" r="1.4" fill="#c8102e"/><circle cx="234.80" cy="289.5" r="1.4" fill="#eaaa3a"/><circle cx="242.90" cy="289.5" r="1.4" fill="#c8102e"/><circle cx="261.50" cy="289.5" r="1.4" fill="#c8102e"/><circle cx="263.20" cy="289.5" r="1.4" fill="#eaaa3a"/><circle cx="265.70" cy="289.5" r="1.4" fill="#f8d838"/><circle cx="272.50" cy="289.5" r="1.4" fill="#f8d838"/><circle cx="286.30" cy="289.5" r="1.4" fill="#f8d838"/><circle cx="293.70" cy="289.5" r="1.4" fill="#f8d838"/><circle cx="295.80" cy="289.5" r="1.4" fill="#f8d838"/><circle cx="299.00" cy="289.5" r="1.4" fill="#c8102e"/><circle cx="313.70" cy="289.5" r="1.4" fill="#c8102e"/><circle cx="323.80" cy="289.5" r="1.4" fill="#c8102e"/><circle cx="325.50" cy="289.5" r="1.4" fill="#eaaa3a"/><circle cx="338.20" cy="289.5" r="1.4" fill="#f8d838"/><circle cx="353.50" cy="289.5" r="1.4" fill="#f8d838"/><circle cx="381.30" cy="289.5" r="1.4" fill="#f8d838"/><circle cx="389.40" cy="289.5" r="1.4" fill="#f8d838"/><circle cx="398.00" cy="289.5" r="1.4" fill="#f8d838"/><circle cx="403.7" cy="282.3" r="1.3" fill="#c8102e"/><text x="409.10" y="283.80" font-size="3.30" text-anchor="start" fill="#444" font-weight="normal">Pathogenic</text><circle cx="403.7" cy="289.9" r="1.3" fill="#f8d838"/><text x="409.10" y="291.40" font-size="3.30" text-anchor="start" fill="#444" font-weight="normal">Uncertain significance</text><circle cx="403.7" cy="297.2" r="1.3" fill="#eaaa3a"/><text x="409.10" y="298.70" font-size="3.30" text-anchor="start" fill="#444" font-weight="normal">Likely pathogenic</text><line x1="400.2" x2="407" y1="304.7" y2="304.7" stroke="#9fdad0" stroke-width="0.8"/><text x="409.10" y="306.20" font-size="3.30" text-anchor="start" fill="#b8bcc0" font-weight="normal">FAD dependent oxidor...</text><text x="302.75" y="431.80" font-size="3.60" text-anchor="middle" fill="#444" font-weight="normal">Top genes</text><rect x="108.1" y="444.2" width="389.4" height="61.3" fill="#e5ecf6"/><line x1="108.1" x2="497.5" y1="497.13" y2="497.13" stroke="#edf2f9" stroke-width="0.5"/><line x1="108.1" x2="497.5" y1="488.86" y2="488.86" stroke="#edf2f9" stroke-width="0.5"/><line x1="108.1" x2="497.5" y1="480.59" y2="480.59" stroke="#edf2f9" stroke-width="0.5"/><line x1="108.1" x2="497.5" y1="472.32" y2="472.32" stroke="#edf2f9" stroke-width="0.5"/><line x1="108.1" x2="497.5" y1="464.05" y2="464.05" stroke="#edf2f9" stroke-width="0.5"/><line x1="108.1" x2="497.5" y1="455.78" y2="455.78" stroke="#edf2f9" stroke-width="0.5"/><line x1="108.1" x2="497.5" y1="447.51" y2="447.51" stroke="#edf2f9" stroke-width="0.5"/><text x="107.00" y="506.40" font-size="2.80" text-anchor="end" fill="#2a3f5f" font-weight="normal">0</text><text x="107.00" y="498.13" font-size="2.80" text-anchor="end" fill="#2a3f5f" font-weight="normal">50</text><text x="107.00" y="489.86" font-size="2.80" text-anchor="end" fill="#2a3f5f" font-weight="normal">100</text><text x="107.00" y="481.59" font-size="2.80" text-anchor="end" fill="#2a3f5f" font-weight="normal">150</text><text x="107.00" y="473.32" font-size="2.80" text-anchor="end" fill="#2a3f5f" font-weight="normal">200</text><text x="107.00" y="465.05" font-size="2.80" text-anchor="end" fill="#2a3f5f" font-weight="normal">250</text><text x="107.00" y="456.78" font-size="2.80" text-anchor="end" fill="#2a3f5f" font-weight="normal">300</text><text x="107.00" y="448.51" font-size="2.80" text-anchor="end" fill="#2a3f5f" font-weight="normal">350</text><text x="97.20" y="475.00" font-size="3.30" text-anchor="middle" fill="#3c4a5e" font-weight="normal" transform="rotate(-90 97.20 475.00)">Number of Variations</text><rect x="112.43" y="447.1" width="34.6" height="58.40" fill="#f4222f"/><text x="129.73" y="509.30" font-size="2.70" text-anchor="middle" fill="#2a3f5f" font-weight="normal">PCNT</text><rect x="155.70" y="465.3" width="34.6" height="40.20" fill="#f4222f"/><text x="173.00" y="509.30" font-size="2.70" text-anchor="middle" fill="#2a3f5f" font-weight="normal">CENPJ</text><rect x="198.97" y="467.7" width="34.6" height="37.80" fill="#f4222f"/><text x="216.27" y="509.30" font-size="2.70" text-anchor="middle" fill="#2a3f5f" font-weight="normal">ATR</text><rect x="242.23" y="482.6" width="34.6" height="22.90" fill="#f4222f"/><text x="259.53" y="509.30" font-size="2.70" text-anchor="middle" fill="#2a3f5f" font-weight="normal">CEP63</text><rect x="285.50" y="491.7" width="34.6" height="13.80" fill="#f4222f"/><text x="302.80" y="509.30" font-size="2.70" text-anchor="middle" fill="#2a3f5f" font-weight="normal">RBBP8</text><rect x="328.77" y="492.1" width="34.6" height="13.40" fill="#f4222f"/><text x="346.07" y="509.30" font-size="2.70" text-anchor="middle" fill="#2a3f5f" font-weight="normal">CEP152</text><rect x="372.03" y="494.9" width="34.6" height="10.60" fill="#f4222f"/><text x="389.33" y="509.30" font-size="2.70" text-anchor="middle" fill="#2a3f5f" font-weight="normal">PLK4</text><rect x="415.30" y="498.7" width="34.6" height="6.80" fill="#f4222f"/><text x="432.60" y="509.30" font-size="2.70" text-anchor="middle" fill="#2a3f5f" font-weight="normal">TRAIP</text><rect x="458.57" y="499.5" width="34.6" height="6.00" fill="#f4222f"/><text x="475.87" y="509.30" font-size="2.70" text-anchor="middle" fill="#2a3f5f" font-weight="normal">ATRIP</text><text x="302.90" y="515.30" font-size="2.90" text-anchor="middle" fill="#2a3f5f" font-weight="normal">Gene</text><text x="302.50" y="569.80" font-size="3.90" text-anchor="middle" fill="#444" font-weight="normal">Top diseases</text><rect x="110" y="583.5" width="385" height="55.3" fill="#e5ecf6"/><line x1="110" x2="495" y1="622.00" y2="622.00" stroke="#edf2f9" stroke-width="0.5"/><line x1="110" x2="495" y1="605.40" y2="605.40" stroke="#edf2f9" stroke-width="0.5"/><line x1="110" x2="495" y1="588.80" y2="588.80" stroke="#edf2f9" stroke-width="0.5"/><text x="109.60" y="640.20" font-size="3.00" text-anchor="end" fill="#2a3f5f" font-weight="normal">0</text><text x="109.60" y="623.60" font-size="3.00" text-anchor="end" fill="#2a3f5f" font-weight="normal">2000</text><text x="109.60" y="607.00" font-size="3.00" text-anchor="end" fill="#2a3f5f" font-weight="normal">4000</text><text x="109.60" y="590.40" font-size="3.00" text-anchor="end" fill="#2a3f5f" font-weight="normal">6000</text><text x="96.20" y="611.00" font-size="3.50" text-anchor="middle" fill="#3c4a5e" font-weight="normal" transform="rotate(-90 96.20 611.00)">Number of variations</text><rect x="114.00" y="585.9" width="30.5" height="52.90" fill="#f9e11e"/><text x="130.25" y="641.80" font-size="3.00" text-anchor="end" fill="#3c4a5e" font-weight="normal" transform="rotate(-14 130.25 641.80)">Retinitis pigmentosa</text><rect x="152.50" y="593.0" width="30.5" height="45.80" fill="#f9e11e"/><text x="168.75" y="641.80" font-size="3.00" text-anchor="end" fill="#3c4a5e" font-weight="normal" transform="rotate(-14 168.75 641.80)">Familial isolated dilated cardiomyopathy</text><rect x="191.00" y="608.4" width="30.5" height="30.40" fill="#f9e11e"/><text x="207.25" y="641.80" font-size="3.00" text-anchor="end" fill="#3c4a5e" font-weight="normal" transform="rotate(-14 207.25 641.80)">Fanconi anemia</text><rect x="229.50" y="620.2" width="30.5" height="18.60" fill="#f9e11e"/><text x="245.75" y="641.80" font-size="3.00" text-anchor="end" fill="#3c4a5e" font-weight="normal" transform="rotate(-14 245.75 641.80)">Familial pancreatic carcinoma</text><rect x="268.00" y="625.8" width="30.5" height="13.00" fill="#f9e11e"/><text x="284.25" y="641.80" font-size="3.00" text-anchor="end" fill="#3c4a5e" font-weight="normal" transform="rotate(-14 284.25 641.80)">Lynch syndrome</text><rect x="306.50" y="628.3" width="30.5" height="10.50" fill="#f9e11e"/><text x="322.75" y="641.80" font-size="3.00" text-anchor="end" fill="#3c4a5e" font-weight="normal" transform="rotate(-14 322.75 641.80)">Familial thoracic aortic aneurysm and aortic dissection</text><rect x="345.00" y="628.2" width="30.5" height="10.60" fill="#f9e11e"/><text x="361.25" y="641.80" font-size="3.00" text-anchor="end" fill="#3c4a5e" font-weight="normal" transform="rotate(-14 361.25 641.80)">Seckel syndrome</text><rect x="383.50" y="628.6" width="30.5" height="10.20" fill="#f9e11e"/><text x="399.75" y="641.80" font-size="3.00" text-anchor="end" fill="#3c4a5e" font-weight="normal" transform="rotate(-14 399.75 641.80)">Hereditary pheochromocytoma-paraganglioma</text><rect x="422.00" y="630.5" width="30.5" height="8.30" fill="#f9e11e"/><text x="438.25" y="641.80" font-size="3.00" text-anchor="end" fill="#3c4a5e" font-weight="normal" transform="rotate(-14 438.25 641.80)">Kabuki syndrome</text><rect x="460.50" y="630.5" width="30.5" height="8.30" fill="#f9e11e"/><text x="476.75" y="641.80" font-size="3.00" text-anchor="end" fill="#3c4a5e" font-weight="normal" transform="rotate(-14 476.75 641.80)">Kallmann syndrome</text><text x="302.50" y="666.00" font-size="3.00" text-anchor="middle" fill="#2a3f5f" font-weight="normal">Disease</text></svg>
</body></html>
